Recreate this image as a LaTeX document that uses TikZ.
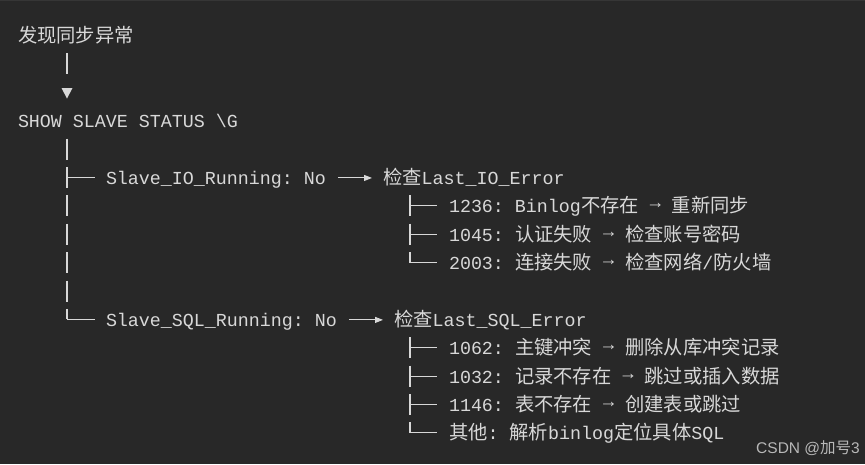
\documentclass[tikz,border=0pt]{standalone}
\usepackage{fontspec}
\setmonofont{Liberation Mono}
\newfontfamily\cjkf{Noto Sans CJK SC}
\newfontfamily\wmfont{Liberation Sans}
\usetikzlibrary{calc,arrows.meta}
\definecolor{bg}{HTML}{282828}
\definecolor{fg}{HTML}{D8D8D8}
\definecolor{wm}{HTML}{B8B8B8}
\definecolor{topline}{HTML}{363636}
\newcommand{\codefont}{\ttfamily\fontsize{18.33}{22}\selectfont}
\newcommand{\zh}[1]{{\cjkf\fontsize{19.3}{22}\selectfont #1}}
\newcommand{\rarr}{\raisebox{4pt}{→}}
\begin{document}
\begin{tikzpicture}[x=1pt,y=-1pt,
  txt/.style={anchor=base west,inner sep=0pt,outer sep=0pt,text=fg,font=\codefont},
  vbar/.style={draw=fg,line width=1.6pt},
  hbar/.style={draw=fg,line width=1pt},
  bigarr/.style={draw=fg,line width=1pt,-{Triangle[length=8pt,width=6pt]}},
  downtip/.style={fill=fg}
]
\fill[bg] (0,0) rectangle (865,464);
\useasboundingbox (0,0) rectangle (865,464);
\draw[topline,line width=1pt] (0,0.5) -- (865,0.5);

% row centre: 35.5 + 28.39*k ; baseline = centre + 7
\node[txt] (root) at (18,{35.5+7}) {\zh{发现同步异常}};
\node[txt] (show) at (18,{35.5+28.39*3+7}) {SHOW SLAVE STATUS \textbackslash G};
\node[txt] (io) at (106,{35.5+28.39*5+7}) {Slave\_IO\_Running: No};
\node[txt] (ioerr) at (383,{35.5+28.39*5+7}) {\zh{检查}Last\_IO\_Error};
\node[txt] (e1236) at (449,{35.5+28.39*6+7}) {1236: Binlog\zh{不存在} \rarr{} \zh{重新同步}};
\node[txt] (e1045) at (449,{35.5+28.39*7+7}) {1045: \zh{认证失败} \rarr{} \zh{检查账号密码}};
\node[txt] (e2003) at (449,{35.5+28.39*8+7}) {2003: \zh{连接失败} \rarr{} \zh{检查网络}/\zh{防火墙}};
\node[txt] (sql) at (106,{35.5+28.39*10+7}) {Slave\_SQL\_Running: No};
\node[txt] (sqlerr) at (394,{35.5+28.39*10+7}) {\zh{检查}Last\_SQL\_Error};
\node[txt] (e1062) at (449,{35.5+28.39*11+7}) {1062: \zh{主键冲突} \rarr{} \zh{删除从库冲突记录}};
\node[txt] (e1032) at (449,{35.5+28.39*12+7}) {1032: \zh{记录不存在} \rarr{} \zh{跳过或插入数据}};
\node[txt] (e1146) at (449,{35.5+28.39*13+7}) {1146: \zh{表不存在} \rarr{} \zh{创建表或跳过}};
\node[txt] (other) at (449,{35.5+28.39*14+7}) {\zh{其他}: \zh{解析}binlog\zh{定位具体}SQL};

\node[anchor=base east,inner sep=0pt,text=wm,font=\wmfont\fontsize{15.5}{17}\selectfont] (wmark) at (860,453.3) {CSDN @{\cjkf 加号}3};

% root -> SHOW
\draw[vbar] (67,{35.5+28.39*1-10.5}) -- (67,{35.5+28.39*1+10.5});
\fill[downtip] (61.5,88) -- (72.5,88) -- (67,98.5) -- cycle;

% main trunk
\foreach \k in {4,5,6,7,8,9}{
  \draw[vbar] (67,{35.5+28.39*\k-10.5}) -- (67,{35.5+28.39*\k+10.5});
}
\draw[vbar] (67,{35.5+28.39*10-10.5}) -- (67,{35.5+28.39*10});
\foreach \k in {5,10}{
  \draw[hbar] (67,{35.5+28.39*\k}) -- (95,{35.5+28.39*\k});
}

% IO sub tree
\foreach \k in {6,7}{
  \draw[vbar] (410,{35.5+28.39*\k-10.5}) -- (410,{35.5+28.39*\k+10.5});
}
\draw[vbar] (410,{35.5+28.39*8-10.5}) -- (410,{35.5+28.39*8});
\foreach \k in {6,7,8}{
  \draw[hbar] (410,{35.5+28.39*\k}) -- (437,{35.5+28.39*\k});
}

% SQL sub tree
\foreach \k in {11,12,13}{
  \draw[vbar] (410,{35.5+28.39*\k-10.5}) -- (410,{35.5+28.39*\k+10.5});
}
\draw[vbar] (410,{35.5+28.39*14-10.5}) -- (410,{35.5+28.39*14});
\foreach \k in {11,12,13,14}{
  \draw[hbar] (410,{35.5+28.39*\k}) -- (437,{35.5+28.39*\k});
}

% arrows to error checks
\draw[bigarr] ($(io.base east)+(12,-6.5)$) -- ($(ioerr.base west)+(-11,-6.5)$);
\draw[bigarr] ($(sql.base east)+(12,-6.5)$) -- ($(sqlerr.base west)+(-11,-6.5)$);
\end{tikzpicture}
\end{document}
